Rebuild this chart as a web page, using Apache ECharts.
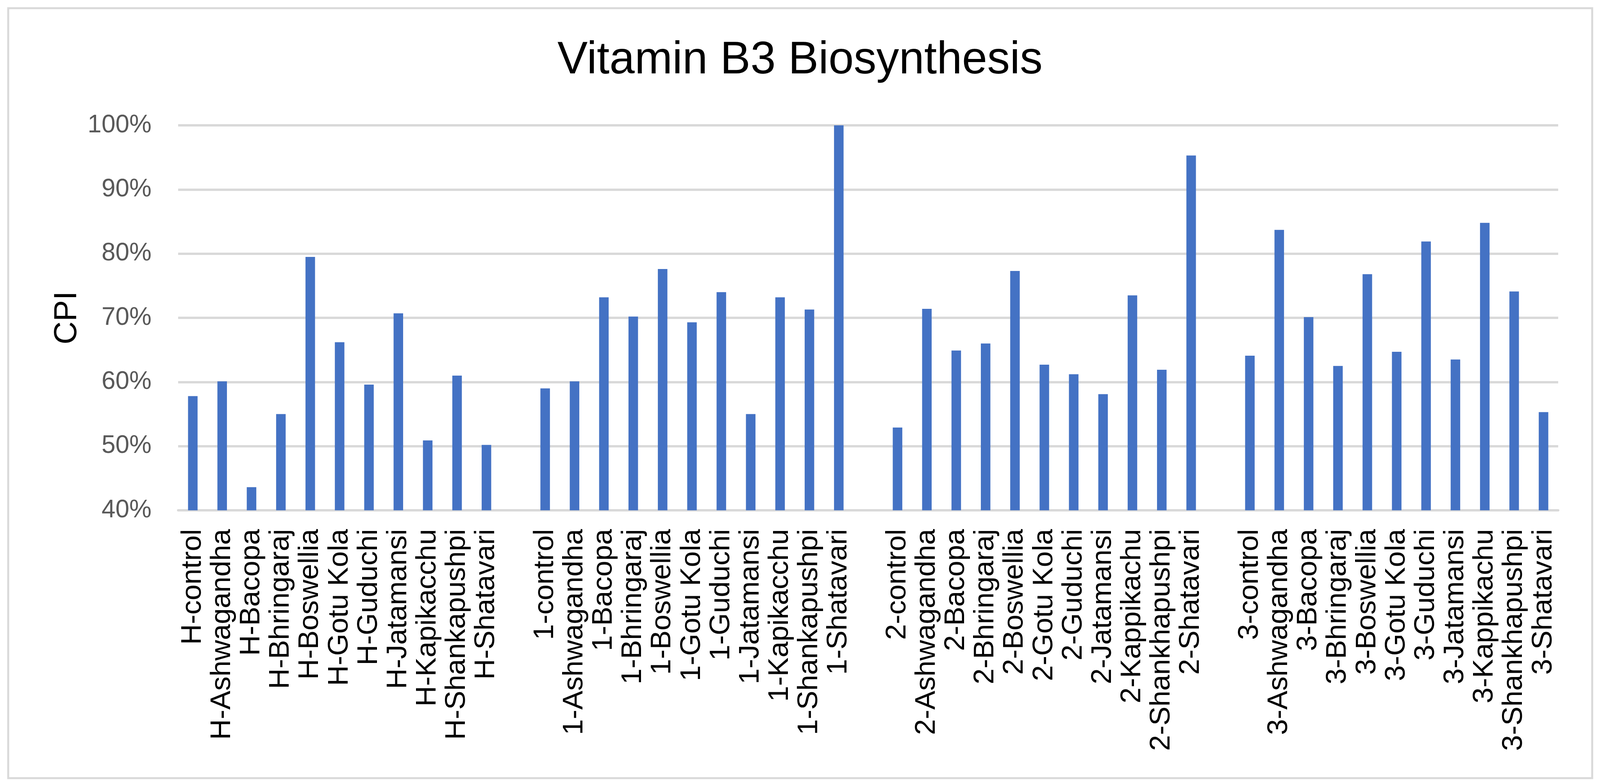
<!DOCTYPE html>
<html>
<head>
<meta charset="utf-8">
<script src="https://cdn.jsdelivr.net/npm/echarts@6/dist/echarts.min.js"></script>
<style>
html,body{margin:0;padding:0;background:#fff;overflow:hidden;}
#chart{width:100vw;height:100vh;}
</style>
</head>
<body>
<div id="chart"></div>
<script>
const hLabels = ['H-control','H-Ashwagandha','H-Bacopa','H-Bhringaraj','H-Boswellia','H-Gotu Kola','H-Guduchi','H-Jatamansi','H-Kapikacchu','H-Shankapushpi','H-Shatavari'];
const g1Labels = ['1-control','1-Ashwagandha','1-Bacopa','1-Bhringaraj','1-Boswellia','1-Gotu Kola','1-Guduchi','1-Jatamansi','1-Kapikacchu','1-Shankapushpi','1-Shatavari'];
const g2Labels = ['2-control','2-Ashwagandha','2-Bacopa','2-Bhringaraj','2-Boswellia','2-Gotu Kola','2-Guduchi','2-Jatamansi','2-Kappikachu','2-Shankhapushpi','2-Shatavari'];
const g3Labels = ['3-control','3-Ashwagandha','3-Bacopa','3-Bhringaraj','3-Boswellia','3-Gotu Kola','3-Guduchi','3-Jatamansi','3-Kappikachu','3-Shankhapushpi','3-Shatavari'];

const hValues  = [57.8, 60.1, 43.6, 55.0, 79.5, 66.2, 59.6, 70.7, 50.9, 61.0, 50.2];
const g1Values = [59.0, 60.1, 73.2, 70.2, 77.6, 69.3, 74.0, 55.0, 73.2, 71.3, 100.0];
const g2Values = [52.9, 71.4, 64.9, 66.0, 77.3, 62.7, 61.2, 58.1, 73.5, 61.9, 95.3];
const g3Values = [64.1, 83.7, 70.1, 62.5, 76.8, 64.7, 81.9, 63.5, 84.8, 74.1, 55.3];

const yTicks = [40, 50, 60, 70, 80, 90, 100];

const categories = [].concat(hLabels, [''], g1Labels, [''], g2Labels, [''], g3Labels);
const values = [].concat(hValues, [null], g1Values, [null], g2Values, [null], g3Values);

const el = document.getElementById('chart');
const chart = echarts.init(el, null, {renderer: 'canvas'});
const W = chart.getWidth(), H = chart.getHeight();
const sx = W / 4356, sy = H / 2008;

const option = {
  backgroundColor: '#ffffff',
  animation: false,
  title: {
    text: 'Vitamin B3 Biosynthesis',
    left: 'center',
    top: Math.round(93 * sy),
    textStyle: {fontFamily: 'Liberation Sans', fontSize: 116, fontWeight: 'normal', color: '#000000'}
  },
  graphic: [{
    type: 'rect',
    shape: {x: Math.round(22 * sx), y: Math.round(21 * sy), width: Math.round(4312 * sx), height: Math.round(1972 * sy)},
    style: {fill: 'none', stroke: '#D9D9D9', lineWidth: 5},
    silent: true
  }],
  grid: {
    left: Math.round(485 * sx), right: Math.round(114 * sx),
    top: Math.round(321 * sy), bottom: Math.round(701 * sy),
    containLabel: false
  },
  xAxis: {
    type: 'category',
    data: categories,
    axisLine: {show: true, lineStyle: {color: '#D9D9D9', width: 6}},
    axisTick: {show: false},
    axisLabel: {
      interval: 0, rotate: 90, margin: 48,
      fontFamily: 'Liberation Sans', fontSize: 73, color: '#000000'
    }
  },
  yAxis: {
    type: 'value',
    min: yTicks[0], max: yTicks[yTicks.length - 1], interval: 10,
    name: 'CPI',
    nameLocation: 'middle',
    nameGap: Math.round(310 * sx - 49),
    nameTextStyle: {fontFamily: 'Liberation Sans', fontSize: 82, color: '#000000'},
    axisLine: {show: false},
    axisTick: {show: false},
    splitLine: {show: true, lineStyle: {color: '#D9D9D9', width: 6}},
    axisLabel: {
      formatter: '{value}%', margin: 68,
      fontFamily: 'Liberation Sans', fontSize: 64, color: '#595959'
    }
  },
  series: [{
    type: 'bar',
    data: values,
    barWidth: '32.5%',
    itemStyle: {color: '#4472C4'}
  }]
};
chart.setOption(option);
</script>
</body>
</html>
